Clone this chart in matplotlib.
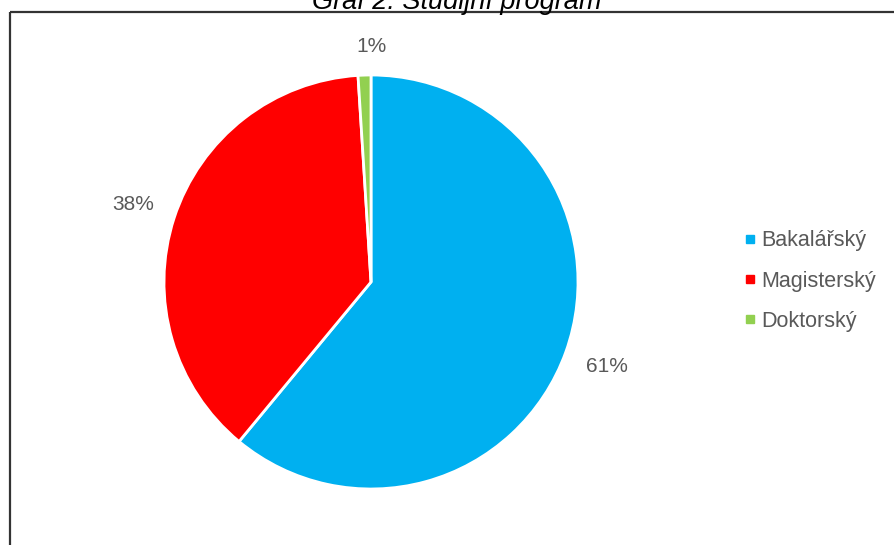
import numpy as np
import matplotlib.pyplot as plt
from matplotlib.lines import Line2D

# Study programme shares (percent)
categories = ["Bakalářský", "Magisterský", "Doktorský"]
shares = [61, 38, 1]
colors = ["#00B0F0", "#FF0000", "#92D050"]
title = "Graf 2: Studijní program"

W, H = 894, 545
fig = plt.figure(figsize=(W / 100, H / 100), dpi=100)
ax = fig.add_axes([0, 0, 1, 1])

text_color = "#595959"
font = "Liberation Sans"

cx, cy, r = 371, H - 282, 207
wedges, _ = ax.pie(shares, colors=colors, startangle=90, counterclock=False,
                   center=(cx, cy), radius=r, frame=True,
                   wedgeprops=dict(edgecolor="white", linewidth=2))
ax.set_xlim(0, W)
ax.set_ylim(0, H)
ax.set_aspect("equal")
ax.axis("off")

# Percentage labels just outside each slice
offsets = [1.21, 1.21, 1.14]
for w, val, k in zip(wedges, shares, offsets):
    ang = np.deg2rad((w.theta1 + w.theta2) / 2)
    x = cx + k * r * np.cos(ang)
    y = cy + k * r * np.sin(ang)
    if abs(np.cos(ang)) < 0.1:
        x = cx
    ax.text(x, y, f"{val}%", ha="center", va="center", fontsize=15,
            color=text_color, family=font)

# Legend
handles = [Line2D([], [], linestyle="none", marker="s", markersize=5.2,
                  markerfacecolor=c, markeredgecolor=c) for c in colors]
leg = ax.legend(handles, categories, loc="center left",
                bbox_to_anchor=(746 / W, 1 - 281 / H), frameon=False,
                prop=dict(family=font, size=15.5), handlelength=0.35,
                handletextpad=0.35, labelspacing=0.9, borderpad=0,
                borderaxespad=0)
for t in leg.get_texts():
    t.set_color(text_color)

# Chart frame (top and left edges)
ax.plot([9.5, W], [H - 11.8, H - 11.8], color="#333333", lw=1.6,
        solid_capstyle="butt", clip_on=False)
ax.plot([9.5, 9.5], [0, H - 11.8], color="#333333", lw=1.6,
        solid_capstyle="butt", clip_on=False)

ax.text(457, H - 9, title, ha="center", va="baseline", fontsize=19.5,
        style="italic", color="black", family=font)

fig.savefig("out.png", dpi=100)
